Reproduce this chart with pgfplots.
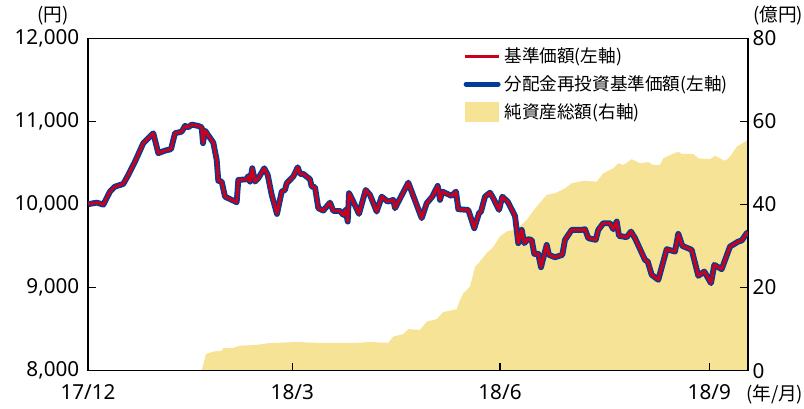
\documentclass[border=0pt]{standalone}
\usepackage{pgfplots}
\pgfplotsset{compat=1.18}
\usepackage{fontspec}
\setmainfont{Noto Sans}
\newfontfamily\jp{Noto Sans CJK JP}
\definecolor{redc}{RGB}{204,0,26}
\definecolor{bluec}{RGB}{0,61,150}
\definecolor{areac}{RGB}{246,227,150}
\begin{document}
\begin{tikzpicture}
\pgfplotsset{every axis/.append style={
  width=495pt, height=249.3pt, scale only axis,
  xmin=0, xmax=660,
  axis line style={line width=0.8pt},
  major tick length=6pt,
  tick style={line width=0.8pt, black},
  tick align=inside,
  /pgf/number format/assume math mode=true,
  tick label style={font=\fontsize{15.5}{18}\selectfont},
}}
% right axis: net assets (area)
\begin{axis}[name=ax2,
  ymin=0, ymax=80,
  ytick={0,20,40,60,80},
  ytick pos=right,
  yticklabel pos=right,
  xtick=\empty,
  axis on top,
]
\addplot[fill=areac, draw=none] table {
113.7 0
118 4.0
125.3 4.6
133.7 4.8
135.3 5.4
145.3 5.5
152 6.0
168.7 6.2
180.3 6.6
198.7 6.8
208.7 6.9
228.7 6.7
242 6.7
268.7 6.7
282 6.9
300.3 6.7
305.3 8.2
315.3 8.8
320.3 10.0
332 9.8
338.7 11.8
348.7 12.4
355.3 14.1
368.7 14.8
372 17.0
375.3 18.6
382 20.2
387 25.0
390.3 25.8
398.7 28.3
405.3 29.8
412 32.3
418.7 33.5
428.7 34.1
438.7 36.3
448.7 39.5
458.7 42.3
467 42.7
477 43.9
483.7 45.1
495.3 45.7
508.7 45.5
515.3 47.5
525.3 48.7
530.3 49.9
535.3 49.5
543.7 50.9
552 49.9
560.3 50.2
565.3 49.5
572 49.5
575.3 51.1
582 51.9
590.3 52.7
593.7 52.2
605.3 52.2
610.3 51.1
622 50.9
627 51.7
637 50.5
642 51.5
648.7 53.9
657 55.1
660 55.7
} \closedcycle;
\end{axis}
% left axis: NAV lines
\begin{axis}[name=ax1,
  ymin=8000, ymax=12000,
  ytick={8000,9000,10000,11000,12000},
  scaled y ticks=false,
  ytick pos=left,
  xtick pos=bottom,
  xtick={0,204.3,412,621.3},
  xticklabels={17/12,18/3,18/6,18/9},
  yticklabel style={xshift=-3pt},
  xticklabel style={yshift=-7pt},
  legend style={at={(rel axis cs:0.5685,0.983)}, anchor=north west,
    draw=none, fill=none, inner sep=0pt,
    font=\jp\fontsize{13.2}{15}\selectfont,
    row sep=2.6pt,
    nodes={inner sep=2.8pt}},
  legend cell align=left,
]
\addlegendimage{legend image code/.code={\draw[redc, line width=2pt] (0pt,0pt) -- (26pt,0pt);}}
\addlegendentry{基準価額(左軸)}
\addlegendimage{legend image code/.code={\draw[bluec, line width=3.75pt, line cap=round] (1pt,0pt) -- (25pt,0pt);}}
\addlegendentry{分配金再投資基準価額(左軸)}
\addlegendimage{legend image code/.code={\fill[areac] (0pt,-7pt) rectangle (25pt,7pt);}}
\addlegendentry{純資産総額(右軸)}
\pgfplotstableread{
x y
0.3 10003
8.7 10022
15.3 9998
22 10155
27 10215
35.3 10247
40.3 10356
47 10516
55.3 10737
65.3 10857
70.3 10617
77 10648
83 10665
87 10857
93.7 10876
97 10945
100.3 10929
103.7 10961
110.3 10945
113.7 10929
115 10737
117 10889
125.3 10744
128.7 10536
130.3 10285
133.7 10275
137 10094
143.7 10055
148.7 10027
150.3 10295
158.7 10303
160.3 10343
162 10275
164.3 10436
167 10275
170.3 10316
176.3 10436
179.7 10356
183.7 10115
189 9886
193.7 10155
197 10175
198.7 10256
205.3 10336
209.7 10448
212 10368
215.3 10368
222 10303
223.7 10215
227 10208
230.3 9955
235.3 9926
242 10022
245.3 9922
252 9922
255.3 9874
257 9914
257.7 9934
259.7 9794
261 10135
262 10115
265.3 10034
271 9886
277.7 10175
282 10115
288.7 9914
293.7 10094
299.7 10034
305.3 10055
307 9955
320.3 10263
333.7 9835
338.7 10015
344.3 10094
349.7 10223
352 10055
354.3 10155
363.7 10103
368 10155
370.3 9943
380.3 9934
386.3 9714
391 9895
393 9914
397 10094
402 10142
405.3 10075
411 9934
414.3 10094
419.7 10034
427 9862
430.3 9534
433.7 9694
436.3 9534
439.7 9582
443.7 9574
446.3 9405
450.3 9405
453 9245
458.7 9513
461 9393
467 9365
474.3 9393
477 9574
483.7 9694
493.7 9694
497 9702
500.3 9594
507.7 9574
510.3 9694
515.3 9774
522 9774
525.3 9702
528.7 9794
531 9622
538.7 9606
543 9674
547 9594
557 9333
559.7 9313
563.7 9153
570.3 9093
575.3 9313
578.7 9462
587 9433
590.3 9646
594.3 9502
603.7 9454
610.3 9141
616.3 9193
623 9053
626.3 9273
633.7 9221
642 9493
650.3 9554
653.7 9566
658.7 9654
660 9660
}\navtable
\addplot[bluec, line width=4.4pt, line join=round, forget plot] table[x=x,y=y] {\navtable};
\addplot[redc, line width=2.2pt, line join=round, forget plot] table[x=x,y=y] {\navtable};
\end{axis}
\node[font=\jp\fontsize{14}{16}\selectfont] at ([xshift=-26.25pt,yshift=16.7pt]ax1.north west) {(円)};
\node[font=\jp\fontsize{14}{16}\selectfont] at ([xshift=22.5pt,yshift=16.7pt]ax1.north east) {(億円)};
\node[font=\jp\fontsize{14}{16}\selectfont] at ([xshift=20pt,yshift=-18pt]ax1.south east) {(年/月)};
\pgfresetboundingbox
\path ([xshift=-66pt,yshift=-28.7pt]ax1.south west) rectangle ([xshift=42pt,yshift=28.7pt]ax1.north east);
\end{tikzpicture}
\end{document}
